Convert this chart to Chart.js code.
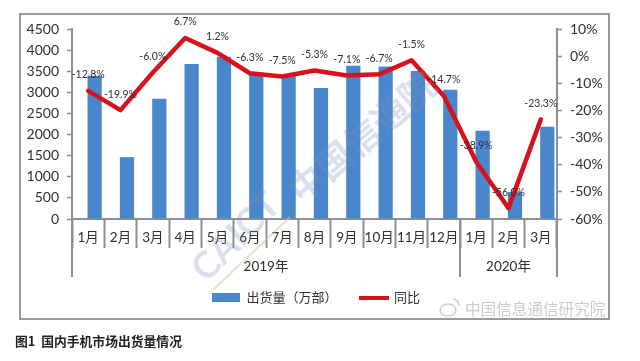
<!DOCTYPE html>
<html lang="zh">
  <head>
    <meta charset="UTF-8" />
    <title>国内手机市场出货量情况</title>
    <script src="https://cdn.jsdelivr.net/npm/chart.js@4"></script>
    <style>
      html, body { margin: 0; padding: 0; background: #fff; }
      .chart-view { position: relative; width: 640px; height: 361px; overflow: hidden; }
      canvas { display: block; }
    </style>
  </head>
  <body>
    <div class="chart-view">
      <canvas id="chart" width="640" height="361"></canvas>
    </div>

    <script>
      const months = ['1月', '2月', '3月', '4月', '5月', '6月', '7月', '8月', '9月', '10月', '11月', '12月', '1月', '2月', '3月'];
      const shipments = [3390, 1465, 2850, 3670, 3845, 3410, 3390, 3105, 3630, 3610, 3505, 3060, 2090, 638, 2186];
      const yoy = [-12.8, -19.9, -6.0, 6.7, 1.2, -6.3, -7.5, -5.3, -7.1, -6.7, -1.5, -14.7, -38.9, -56.0, -23.3];
      const years = ['2019年', '2020年'];
      const yearFirst = [0, 12];
      const yearLast = [11, 14];

      const FONT = 'Lato, "Noto Sans CJK SC", sans-serif';
      const CJK = '"Noto Sans CJK SC", sans-serif';
      const AXIS_GRAY = '#8f8f8f';
      const TEXT = '#2f2f2f';
      const BLUE = '#4a86cc';
      const RED = '#d8121c';

      // legend swatches
      function swatch(w, h, color) {
        const c = document.createElement('canvas');
        c.width = w;
        c.height = h;
        const g = c.getContext('2d');
        g.fillStyle = color;
        g.fillRect(0, 0, w, h);
        return c;
      }
      const barSwatch = swatch(28, 9, BLUE);
      const lineSwatch = swatch(30, 4, RED);

      // point labels, two level axis, frame, caption, watermarks
      const decor = {
        id: 'decor',
        afterDatasetsDraw(chart) {
          const c = chart.ctx;
          const x = chart.scales.x;
          const meta = chart.getDatasetMeta(2);

          c.save();
          c.font = '10.5px ' + FONT;
          c.fillStyle = TEXT;
          c.textAlign = 'center';
          c.textBaseline = 'middle';
          meta.data.forEach((pt, i) => {
            c.fillText(yoy[i].toFixed(1) + '%', pt.x, pt.y - 16);
          });

          // watermark over the plot
          c.strokeStyle = 'rgba(205,195,165,0.5)';
          c.lineWidth = 2;
          c.beginPath();
          c.moveTo(213, 290);
          c.lineTo(290, 217);
          c.stroke();
          c.translate(198, 275);
          c.rotate(-Math.PI / 4);
          c.fillStyle = 'rgba(125,145,185,0.28)';
          c.font = 'bold 37px ' + FONT;
          c.textAlign = 'left';
          c.fillText('CAICT', 0, 0);
          c.rotate(Math.PI / 4 - 0.7);
          c.font = 'bold 36px ' + CJK;
          c.fillText('中国信通院', 124, 0);
          c.restore();

          // year level of the axis
          const half = (x.getPixelForValue(1) - x.getPixelForValue(0)) / 2;
          c.save();
          c.strokeStyle = AXIS_GRAY;
          c.lineWidth = 2;
          c.fillStyle = TEXT;
          c.font = '13.5px ' + FONT;
          c.textAlign = 'center';
          c.textBaseline = 'middle';
          const seps = [x.getPixelForValue(0) - half].concat(yearLast.map((l) => x.getPixelForValue(l) + half));
          seps.forEach((sx) => {
            c.beginPath();
            c.moveTo(sx, chart.chartArea.bottom);
            c.lineTo(sx, 277);
            c.stroke();
          });
          years.forEach((y, i) => {
            c.fillText(y, (x.getPixelForValue(yearFirst[i]) + x.getPixelForValue(yearLast[i])) / 2, 267);
          });

          // outer frame
          c.strokeStyle = '#9a9a9a';
          c.strokeRect(20, 14, 589, 305);

          // caption
          c.fillStyle = '#222';
          c.textAlign = 'left';
          c.font = 'bold 12.8px ' + CJK;
          c.fillText('图1  国内手机市场出货量情况', 15, 341);

          // weibo mark
          c.fillStyle = 'rgba(165,170,185,0.6)';
          c.strokeStyle = 'rgba(165,170,185,0.6)';
          c.lineWidth = 1.5;
          c.font = '15.6px ' + CJK;
          c.fillText('中国信息通信研究院', 465, 309);
          c.beginPath();
          c.ellipse(448, 310, 8, 6, 0, 0, Math.PI * 2);
          c.stroke();
          c.beginPath();
          c.arc(453, 305, 6, -Math.PI / 2, 0.2);
          c.stroke();
          c.restore();
        }
      };

      const ctx = document.getElementById('chart');
      const chart = new Chart(ctx, {
        data: {
          labels: months,
          datasets: [
            // empty series, the bars in the source sit right of the category centre
            {
              type: 'bar',
              label: '',
              data: [],
              yAxisID: 'y',
              categoryPercentage: 0.8,
              barPercentage: 1.1,
              order: 2
            },
            {
              type: 'bar',
              label: '出货量（万部）',
              data: shipments,
              yAxisID: 'y',
              backgroundColor: BLUE,
              categoryPercentage: 0.8,
              barPercentage: 1.1,
              order: 2,
              pointStyle: barSwatch
            },
            {
              type: 'line',
              label: '同比',
              data: yoy,
              yAxisID: 'y1',
              borderColor: RED,
              borderWidth: 4.5,
              tension: 0,
              pointRadius: 0,
              borderCapStyle: 'round',
              borderJoinStyle: 'round',
              order: 1,
              pointStyle: lineSwatch
            }
          ]
        },
        options: {
          responsive: false,
          animation: false,
          layout: { padding: { left: 0, right: 8, top: 29, bottom: 47 } },
          plugins: {
            title: { display: false },
            tooltip: { enabled: false },
            legend: {
              position: 'bottom',
              labels: {
                usePointStyle: true,
                pointStyleWidth: 28,
                padding: 22,
                color: TEXT,
                font: { family: CJK, size: 13 },
                generateLabels(chart) {
                  return chart.data.datasets
                    .map((d, i) => ({
                      text: d.label,
                      datasetIndex: i,
                      pointStyle: d.pointStyle,
                      fontColor: TEXT
                    }))
                    .filter((item) => item.text);
                }
              }
            }
          },
          scales: {
            x: {
              offset: true,
              afterFit(s) { s.height = 50; },
              border: { color: AXIS_GRAY, width: 2 },
              grid: { drawOnChartArea: false, tickColor: AXIS_GRAY, tickWidth: 2, tickLength: 29, offset: true },
              ticks: {
                color: TEXT,
                padding: -18,
                maxRotation: 0,
                autoSkip: false,
                font: { family: FONT, size: 13.5 }
              }
            },
            y: {
              position: 'left',
              min: 0,
              max: 4500,
              afterFit(s) { s.width = 72; },
              border: { color: AXIS_GRAY, width: 2 },
              grid: { drawOnChartArea: false, tickColor: AXIS_GRAY, tickLength: 5, tickWidth: 1.5 },
              ticks: {
                stepSize: 500,
                autoSkip: false,
                color: TEXT,
                padding: 8,
                font: { family: FONT, size: 14 },
                callback: (v) => String(v)
              }
            },
            y1: {
              position: 'right',
              min: -60,
              max: 10,
              afterFit(s) { s.width = 75; },
              border: { color: AXIS_GRAY, width: 2 },
              grid: { drawOnChartArea: false, tickColor: AXIS_GRAY, tickLength: 5, tickWidth: 1.5 },
              ticks: {
                stepSize: 10,
                autoSkip: false,
                color: TEXT,
                padding: 8,
                font: { family: FONT, size: 14 },
                callback: (v) => v + '%'
              }
            }
          }
        },
        plugins: [decor]
      });
    </script>
  </body>
</html>
